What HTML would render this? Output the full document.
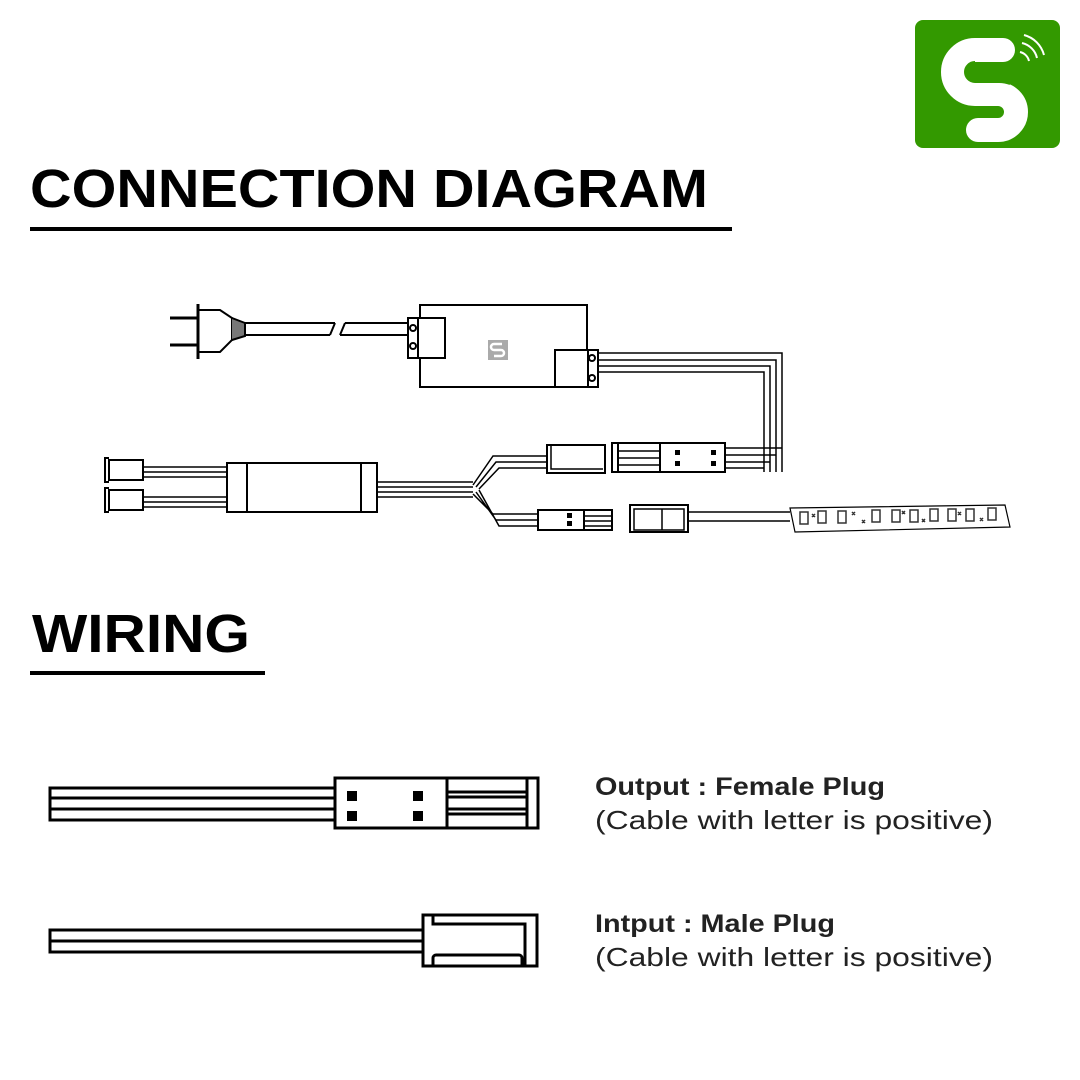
<!DOCTYPE html>
<html><head><meta charset="utf-8"><style>body{margin:0;background:#fff}svg{display:block}</style></head><body>
<svg width="1080" height="1080" viewBox="0 0 1080 1080" xmlns="http://www.w3.org/2000/svg" font-family="Liberation Sans, sans-serif">
<rect width="1080" height="1080" fill="#fff"/>
<!-- logo -->
<rect x="915" y="20" width="145" height="128" rx="8" fill="#339900"/>
<path d="M1003 50 H975 a22 22 0 0 0 0 44 H998 a18 18 0 0 1 0 36 H978" fill="none" stroke="#fff" stroke-width="24" stroke-linecap="round"/>
<path d="M975 62 a10 10 0 0 0 0 20 H998 a30 30 0 0 1 12 2" fill="none" stroke="#339900" stroke-width="2"/>
<path d="M1020 52 a12 12 0 0 1 9 9 M1022 43 a20 20 0 0 1 15 15 M1024 35 a28 28 0 0 1 20 20" fill="none" stroke="#fff" stroke-width="2"/>
<!-- titles -->
<text x="30" y="207" font-size="54" font-weight="bold" textLength="678" lengthAdjust="spacingAndGlyphs">CONNECTION DIAGRAM</text>
<rect x="30" y="227" width="702" height="4" fill="#000"/>
<text x="32" y="652" font-size="54" font-weight="bold" textLength="218" lengthAdjust="spacingAndGlyphs">WIRING</text>
<rect x="30" y="671" width="235" height="4" fill="#000"/>
<g fill="none" stroke="#000" stroke-width="2">
<!-- plug -->
<line x1="170" y1="318" x2="198" y2="318" stroke-width="3"/><line x1="170" y1="345" x2="198" y2="345" stroke-width="3"/>
<line x1="198" y1="304" x2="198" y2="359" stroke-width="3"/>
<path d="M198 310 H220 L232 318 V340 L220 352 H198"/>
<path d="M232 318 L245 323 V336 L232 340" fill="#777"/>
<path d="M245 323 H335 M345 323 H410 M245 335 H330 M340 335 H410 M335 323 L330 335 M345 323 L340 335"/>
<!-- box -->
<rect x="420" y="305" width="167" height="82"/>
<rect x="408" y="318" width="37" height="40" fill="#fff"/>
<line x1="418" y1="318" x2="418" y2="358"/>
<circle cx="413" cy="328" r="3"/><circle cx="413" cy="346" r="3"/>
<rect x="488" y="340" width="20" height="20" fill="#aaa" stroke="none"/>
<path d="M502 344 H494 a3 3 0 0 0 0 6 H501 a3 3 0 0 1 0 6 H494" stroke="#fff" stroke-width="2.5"/>
<rect x="555" y="350" width="43" height="37" fill="#fff"/>
<line x1="588" y1="350" x2="588" y2="387"/>
<circle cx="592" cy="358" r="3"/><circle cx="592" cy="378" r="3"/>
<path d="M598 353 H782 V472 M598 360 H776 V472 M598 366 H770 V472 M598 372 H764 V472" stroke-width="1.5"/>
<!-- female pair top -->
<rect x="612" y="443" width="113" height="29" fill="#fff"/>
<line x1="660" y1="443" x2="660" y2="472"/>
<line x1="618" y1="443" x2="618" y2="472"/>
<path d="M618 451 H660 M618 458 H660 M618 465 H660" stroke-width="1.5"/>
<path d="M725 448 H782 M725 455 H776 M725 462 H770 M725 468 H764" stroke-width="1.5"/>
<rect x="676" y="451" width="3" height="3" fill="#000"/><rect x="676" y="462" width="3" height="3" fill="#000"/>
<rect x="712" y="451" width="3" height="3" fill="#000"/><rect x="712" y="462" width="3" height="3" fill="#000"/>
<!-- male top -->
<rect x="547" y="445" width="58" height="28"/>
<path d="M551 445 V469 H603" stroke-width="1.5"/>
<!-- controller -->
<rect x="227" y="463" width="150" height="49" fill="#fff"/>
<line x1="247" y1="463" x2="247" y2="512"/><line x1="361" y1="463" x2="361" y2="512"/>
<rect x="109" y="460" width="34" height="20"/><path d="M109 458 h-4 v24 h4"/>
<rect x="109" y="490" width="34" height="20"/><path d="M109 488 h-4 v24 h4"/>
<path d="M143 467 H227 M143 472 H227 M143 477 H227 M143 497 H227 M143 502 H227 M143 507 H227" stroke-width="1.5"/>
<path d="M377 482 H473 M377 487 H473 M377 492 H473 M377 497 H473" stroke-width="1.5"/>
<path d="M473 485 L493 456 H547 M476 487 L496 462 H547 M479 489 L499 468 H547" stroke-width="1.5"/>
<path d="M473 494 L493 514 H538 M476 492 L496 520 H538 M479 490 L499 526 H538" stroke-width="1.5"/>
<!-- lower male connector -->
<rect x="538" y="510" width="46" height="20"/>
<rect x="584" y="510" width="28" height="20"/>
<path d="M584 516 H612 M584 521 H612 M584 526 H612" stroke-width="1.5"/>
<rect x="568" y="514" width="3" height="3" fill="#000"/><rect x="568" y="522" width="3" height="3" fill="#000"/>
<!-- female lower -->
<rect x="630" y="505" width="58" height="27"/>
<path d="M634 530 V509 H684 V530 Z M662 509 V530" stroke-width="1.5"/>
<path d="M688 512 H790 M688 521 H790" stroke-width="1.5"/>
<!-- LED strip -->
<path d="M790 508 L1005 505 L1010 527 L795 532 Z" stroke-width="1.2"/>
</g>
<g fill="none" stroke="#333" stroke-width="1.5">
<rect x="800" y="512" width="8" height="12"/><rect x="818" y="511" width="8" height="12"/><rect x="838" y="511" width="8" height="12"/>
<rect x="872" y="510" width="8" height="12"/><rect x="892" y="510" width="8" height="12"/><rect x="910" y="510" width="8" height="12"/>
<rect x="930" y="509" width="8" height="12"/><rect x="948" y="509" width="8" height="12"/><rect x="966" y="509" width="8" height="12"/><rect x="988" y="508" width="8" height="12"/>
<path d="M812 514 l3 3 m0 -3 l-3 3 M852 512 l3 3 m0 -3 l-3 3 M862 520 l3 3 m0 -3 l-3 3 M902 511 l3 3 m0 -3 l-3 3 M922 519 l3 3 m0 -3 l-3 3 M958 512 l3 3 m0 -3 l-3 3 M980 518 l3 3 m0 -3 l-3 3"/>
</g>
<!-- wiring diagrams -->
<g fill="none" stroke="#000" stroke-width="3">
<rect x="50" y="788" width="285" height="32"/>
<line x1="50" y1="798" x2="335" y2="798"/><line x1="50" y1="809" x2="335" y2="809"/>
<rect x="335" y="778" width="112" height="50"/>
<rect x="447" y="778" width="91" height="50"/>
<line x1="527" y1="778" x2="527" y2="828"/>
<line x1="447" y1="792" x2="527" y2="792"/><line x1="447" y1="797" x2="527" y2="797"/>
<line x1="447" y1="809" x2="527" y2="809"/><line x1="447" y1="814" x2="527" y2="814"/>
<rect x="50" y="930" width="373" height="22"/>
<line x1="50" y1="941" x2="423" y2="941"/>
<rect x="423" y="915" width="114" height="51"/>
<path d="M433 915 V924 H525 V966"/>
<path d="M433 966 V958 a3 3 0 0 1 3 -3 H519 a3 3 0 0 1 3 3 V966"/>
</g>
<g fill="#000">
<rect x="347" y="791" width="10" height="10"/><rect x="413" y="791" width="10" height="10"/>
<rect x="347" y="811" width="10" height="10"/><rect x="413" y="811" width="10" height="10"/>
</g>
<text x="595" y="795" font-size="25" font-weight="bold" fill="#222" textLength="290" lengthAdjust="spacingAndGlyphs">Output : Female Plug</text>
<text x="595" y="829" font-size="26" fill="#222" textLength="398" lengthAdjust="spacingAndGlyphs">(Cable with letter is positive)</text>
<text x="595" y="932" font-size="25" font-weight="bold" fill="#222" textLength="240" lengthAdjust="spacingAndGlyphs">Intput : Male Plug</text>
<text x="595" y="966" font-size="26" fill="#222" textLength="398" lengthAdjust="spacingAndGlyphs">(Cable with letter is positive)</text>
</svg>
</body></html>
